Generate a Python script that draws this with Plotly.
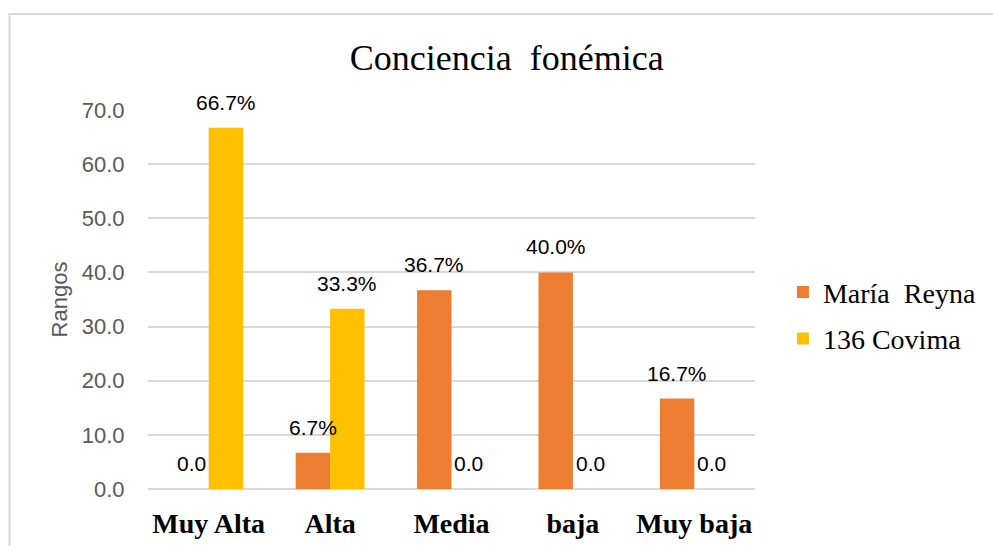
import plotly.graph_objects as go

categories = ["Muy Alta", "Alta", "Media", "baja", "Muy baja"]
maria_reyna = [0.0, 6.7, 36.7, 40.0, 16.7]
covima_136 = [66.7, 33.3, 0.0, 0.0, 0.0]
maria_labels = ["0.0", "6.7%", "36.7%", "40.0%", "16.7%"]
covima_labels = ["66.7%", "33.3%", "0.0", "0.0", "0.0"]
y_ticks = [0, 10, 20, 30, 40, 50, 60, 70]

ORANGE = "#ED7D31"
YELLOW = "#FFC000"
SANS = "Liberation Sans"
SERIF = "Liberation Serif"

fig = go.Figure()
fig.add_trace(go.Bar(name="María\u00a0 Reyna", x=categories, y=maria_reyna, legendgroup="a",
                     marker=dict(color=ORANGE, line=dict(width=0))))
fig.add_trace(go.Bar(name="136 Covima", x=categories, y=covima_136, legendgroup="b",
                     marker=dict(color=YELLOW, line=dict(width=0))))

annotations = []
half = 17.25
for cat, v, t in zip(categories, maria_reyna, maria_labels):
    annotations.append(dict(x=cat, y=v, xref="x", yref="y", text=t, showarrow=False,
                            xanchor="center", yanchor="bottom", xshift=-half, yshift=12,
                            font=dict(family=SANS, size=21, color="#000000")))
for cat, v, t in zip(categories, covima_136, covima_labels):
    annotations.append(dict(x=cat, y=v, xref="x", yref="y", text=t, showarrow=False,
                            xanchor="center", yanchor="bottom", xshift=half, yshift=12,
                            font=dict(family=SANS, size=21, color="#000000")))

fig.update_layout(
    width=993, height=546,
    margin=dict(l=148, r=236, t=110, b=57),
    paper_bgcolor="white", plot_bgcolor="white",
    barmode="group", bargap=0.433, bargroupgap=0,
    title=dict(text="Conciencia\u00a0 fonémica", x=0.591, xref="paper", xanchor="center",
               y=1 - 57 / 546, yref="container", yanchor="middle",
               font=dict(family=SERIF, size=36, color="#000000")),
    legend=dict(x=1.046, y=0.458, xanchor="left", yanchor="middle",
                font=dict(family=SERIF, size=28, color="#000000"),
                bgcolor="rgba(0,0,0,0)", tracegroupgap=7, itemwidth=30,
                traceorder="grouped"),
    xaxis=dict(showgrid=False, showline=False, zeroline=False, automargin=False,
               ticks="outside", ticklen=9, tickcolor="rgba(0,0,0,0)",
               tickfont=dict(family=SERIF, size=28, color="#000000"),
               tickprefix="<b>", ticksuffix="</b>"),
    yaxis=dict(range=[0, 70], tickvals=y_ticks, tickformat=".1f", automargin=False,
               showgrid=True, gridcolor="#D9D9D9", gridwidth=1.5,
               zeroline=True, zerolinecolor="#D9D9D9", zerolinewidth=1.5,
               showline=False, ticks="outside", ticklen=18, tickcolor="rgba(0,0,0,0)",
               tickfont=dict(family=SANS, size=22, color="#595959"),
               title=dict(text="Rangos", standoff=8,
                          font=dict(family=SANS, size=22, color="#595959"))),
    annotations=annotations,
    shapes=[dict(type="rect", xref="paper", yref="paper",
                 x0=(9 - 148) / 609, x1=(1100 - 148) / 609,
                 y0=(489 - 600) / 379, y1=(489 - 14) / 379,
                 line=dict(color="#D9D9D9", width=2), fillcolor="rgba(0,0,0,0)",
                 layer="below")],
)

fig.write_html("out.html", config={"displayModeBar": False},
               post_script="document.body.style.margin='0';")
